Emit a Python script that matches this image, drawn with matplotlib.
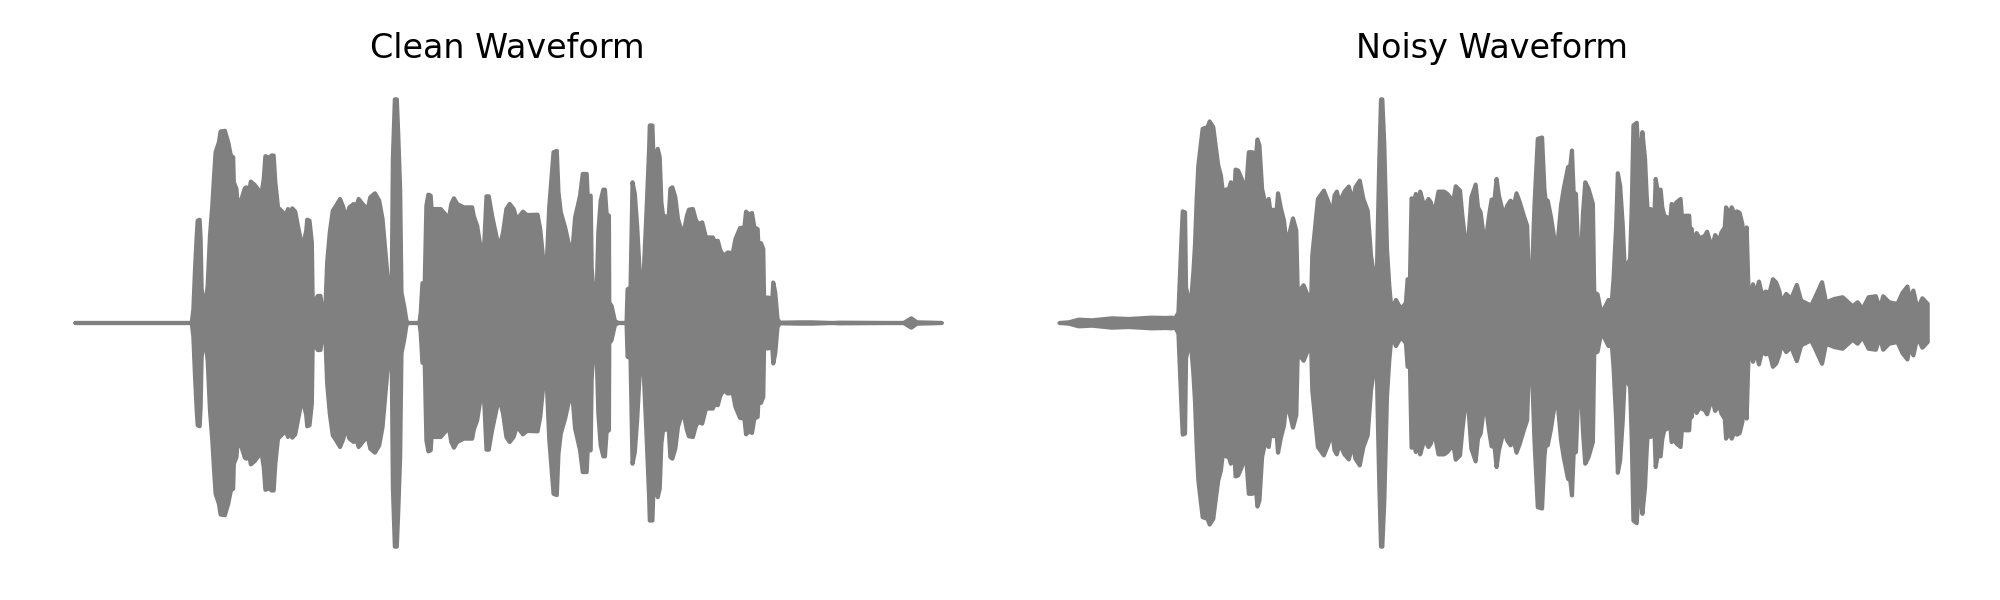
import numpy as np
from matplotlib import pyplot as plt

# envelope of each waveform (time in hops, amplitude in counts, peak about 670)
clean_time = [0, 350, 355, 360, 365, 368, 374, 377, 380, 385, 392, 398, 405, 412, 418, 422, 432, 437, 450, 460,
              468, 475, 477, 485, 488, 500, 510, 515, 522, 528, 540, 560, 567, 572, 580, 585, 590, 597, 602, 610,
              625, 633, 640, 646, 653, 662, 670, 678, 683, 695, 698, 705, 712, 715, 722, 730, 738, 745, 749, 753,
              758, 766, 775, 785, 797, 807, 814, 825, 838, 845, 853, 865, 880, 888, 902, 915, 925, 932, 940, 950,
              953, 956, 962, 968, 972, 978, 982, 990, 998, 1005, 1036,
              1040, 1045, 1052, 1057, 1063, 1070, 1076, 1080, 1100, 1125, 1132, 1140, 1150, 1170, 1195, 1200, 1210, 1218, 1225, 1232,
              1238, 1245, 1255, 1272, 1280, 1288, 1298, 1308, 1320, 1332, 1337, 1348, 1360, 1392, 1400, 1408, 1413, 1418, 1427, 1440,
              1450, 1455, 1462, 1475, 1485, 1493, 1498, 1505, 1512, 1520, 1528, 1540, 1543, 1552, 1555, 1560, 1570, 1575, 1582, 1590,
              1595, 1600, 1607, 1608, 1615, 1625, 1635, 1660, 1663, 1672, 1678, 1685, 1692, 1700, 1706, 1712, 1720, 1728,
              1730, 1738, 1742, 1748, 1754, 1760, 1765, 1770, 1778, 1786, 1792, 1798, 1807, 1815, 1830, 1842, 1848, 1860, 1868, 1875,
              1888, 1898, 1902, 1907, 1920, 1927, 1935, 1942, 1952, 1965, 1980, 1988, 2002, 2015, 2020, 2027, 2032, 2038, 2045, 2055,
              2058, 2065, 2072, 2075, 2082, 2088, 2095, 2102, 2108, 2115, 2122, 2180, 2220, 2280, 2300, 2495, 2518, 2535, 2580, 2610]
clean_env = [0, 0, 41, 161, 261, 306, 309, 251, 101, 69, 61, 111, 261, 351, 451, 511, 541, 573, 575, 541,
             501, 496, 421, 401, 359, 371, 403, 406, 386, 423, 413, 386, 431, 499, 496, 431, 501, 501, 421, 346,
             331, 319, 341, 313, 343, 333, 291, 251, 221, 276, 309, 306, 241, 31, 69, 81, 81, 31, 1, 51,
             181, 271, 336, 351, 371, 346, 311, 346, 356, 346, 371, 356, 339, 376, 388, 366, 311, 231, 141, 51,
             151, 491, 669, 669, 571, 401, 91, 51, 1, 0, 0,
             31, 119, 121, 351, 384, 381, 291, 341, 341, 313, 356, 373, 356, 346, 346, 319, 291, 241, 151, 251,
             379, 379, 321, 241, 239, 271, 341, 356, 341, 301, 319, 333, 323, 324, 281, 201, 56, 141, 346, 511,
             515, 391, 331, 286, 241, 211, 231, 316, 346, 381, 446, 446, 381, 381, 166, 96, 93, 271, 366, 399,
             399, 326, 321, 61, 51, 6, 0, 0, 101, 106, 421, 386, 291, 146, 131, 156, 331, 521,
             591, 591, 471, 486, 521, 496, 361, 321, 319, 299, 401, 406, 376, 311, 261, 321, 339, 341, 311, 296,
             301, 261, 106, 256, 256, 241, 246, 219, 201, 211, 209, 251, 284, 286, 333, 326, 326, 329, 286, 281,
             221, 239, 221, 31, 76, 76, 6, 121, 91, 11, 1, 2, 2, 0, 1, 0, 14, 2, 1, 0]

noisy_time = [0, 28, 58, 98, 158, 208, 278, 320,
              338, 348, 358, 363, 368, 371, 378, 381, 388, 396, 403, 408, 413, 418, 425, 431, 446, 452, 463, 470, 478, 486,
              493, 501, 510, 516, 523, 526, 530, 538, 548, 556, 563, 570, 581, 588, 596, 602, 610, 621, 630, 636,
              644, 652, 658, 666, 676, 683, 693, 703, 713, 718, 726, 735, 746, 758, 761, 770, 778, 796, 808, 821,
              828, 835, 843, 858, 871, 883, 891, 904, 915, 928, 938, 950, 954, 958, 963, 968, 972, 978, 986, 993,
              1000, 1013, 1023,
              1028, 1036, 1043, 1048, 1055, 1060, 1070, 1073, 1080, 1086, 1095, 1103, 1111, 1118, 1125, 1133, 1141, 1158, 1168, 1180,
              1183, 1193, 1206, 1213, 1220, 1226, 1231, 1240, 1253, 1260, 1268, 1275, 1286, 1294, 1301, 1310, 1316, 1323, 1338, 1348,
              1358, 1368, 1376, 1386, 1398, 1408, 1413, 1418, 1423, 1430, 1440, 1453, 1460, 1466, 1470, 1480, 1490, 1496, 1500, 1510,
              1518, 1531, 1538, 1543, 1548, 1555, 1563, 1568, 1576, 1583, 1593, 1606, 1610, 1620, 1628, 1635, 1643, 1653, 1663, 1668,
              1676, 1681, 1688, 1696, 1702,
              1718, 1723, 1728, 1738, 1745, 1750, 1755, 1763, 1768, 1773, 1780, 1788, 1791, 1795, 1801, 1810, 1815, 1821, 1830, 1833,
              1838, 1843, 1851, 1858, 1870, 1875, 1883, 1896, 1898, 1904, 1905, 1910, 1918, 1928, 1943, 1950, 1958, 1968, 1974, 1986,
              1993, 2003, 2007, 2016, 2024, 2032, 2040, 2048, 2056, 2063, 2069, 2075, 2080, 2088, 2096, 2106, 2116, 2126, 2138, 2148,
              2158, 2168,
              2173, 2188, 2203, 2220, 2233, 2263, 2273, 2296, 2308, 2333, 2358, 2388, 2403, 2418, 2436, 2458, 2470, 2480, 2498, 2523,
              2538, 2553, 2560, 2571, 2583, 2598, 2614]
noisy_env = [0, 2, 10, 8, 14, 12, 16, 15,
             16, 13, 31, 151, 271, 334, 331, 106, 73, 66, 151, 236, 371, 471, 531, 581, 586, 603, 586, 531, 471, 441,
             381, 399, 401, 421, 401, 376, 459, 456, 433, 409, 416, 511, 511, 461, 549, 531, 401, 351, 371, 326,
             339, 316, 388, 346, 306, 241, 271, 313, 276, 61, 101, 113, 86, 81, 201, 291, 371, 396, 366, 326,
             381, 393, 361, 393, 408, 363, 406, 426, 371, 336, 201, 121, 61, 271, 491, 669, 669, 531, 221, 111,
             36, 69, 51,
             46, 51, 61, 131, 121, 373, 371, 386, 321, 393, 361, 356, 371, 361, 336, 351, 393, 393, 386, 371,
             346, 409, 396, 321, 261, 146, 251, 376, 414, 346, 331, 276, 266, 326, 369, 371, 431, 381, 321, 351,
             366, 351, 388, 361, 321, 291, 141, 116, 156, 351, 551, 555, 401, 341, 366, 316, 251, 221, 241, 351,
             401, 466, 471, 516, 391, 386, 181, 146, 326, 421, 401, 356, 91, 86, 46, 31, 49, 69, 66, 131,
             291, 448, 411, 291, 161,
             191, 351, 591, 599, 476, 511, 571, 491, 381, 303, 341, 326, 316, 431, 396, 399, 346, 321, 316, 281,
             296, 356, 351, 361, 371, 306, 321, 321, 283, 281, 123, 251, 269, 253, 261, 273, 246, 239, 263, 246,
             271, 286, 346, 326, 346, 326, 334, 329, 296, 226, 286, 81, 76, 116, 86, 124, 81, 94, 91, 131,
             121, 93,
             62, 87, 72, 114, 67, 52, 72, 122, 62, 72, 77, 50, 62, 42, 77, 80, 42, 80, 62, 57,
             90, 109, 72, 97, 42, 74, 57]

titles = ['Clean Waveform', 'Noisy Waveform']

fig = plt.figure(figsize=(10, 3), dpi=200)
panels = [(clean_time, clean_env, [31.7, 953]), (noisy_time, noisy_env, [1015.6, 955])]
for (t, env, box), title in zip(panels, titles):
    ax = fig.add_axes([box[0] / 2000, (600 - 568.5) / 600, box[1] / 2000, 492 / 600])
    t = np.array(t)
    env = np.array(env)
    ax.fill_between(t, -env, env, color='gray', linewidth=1.5, capstyle='round', joinstyle='round')
    ax.set_title(title, fontsize=12, pad=6.7, x=0.499)
    ax.axis('off')

fig.savefig('out.png', dpi=200)
